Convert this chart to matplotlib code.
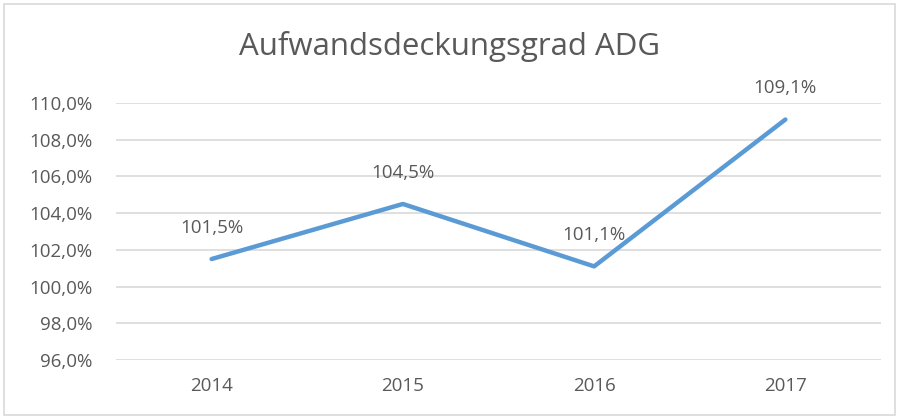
import matplotlib.pyplot as plt
from matplotlib.patches import Rectangle
from matplotlib.ticker import FuncFormatter

years = ["2014", "2015", "2016", "2017"]
adg = [101.5, 104.5, 101.1, 109.1]
labels = ["101,5%", "104,5%", "101,1%", "109,1%"]

plt.rcParams['font.family'] = ['Open Sans', 'DejaVu Sans']
grey = '#595959'

fig = plt.figure(figsize=(8.99, 4.19), dpi=100)
ax = fig.add_axes([116 / 899, 1 - 360 / 419, 765 / 899, 257 / 419])

x = range(len(years))
ax.plot(x, adg, color='#5B9BD5', lw=3.2, solid_capstyle='round', solid_joinstyle='round')
for i, (v, t) in enumerate(zip(adg, labels)):
    ax.annotate(t, (i, v), xytext=(0, 16), textcoords='offset points',
                ha='center', va='bottom', fontsize=13.5, color=grey)

ax.set_xlim(-0.5, len(years) - 0.5)
ax.set_ylim(96, 110)
ax.set_yticks(range(96, 111, 2))
ax.yaxis.set_major_formatter(FuncFormatter(lambda v, p: f"{v:.1f}%".replace('.', ',')))
ax.set_xticks(list(x))
ax.set_xticklabels(years)
ax.tick_params(length=0, labelsize=13.5, labelcolor=grey)
ax.tick_params(axis='y', pad=17)
ax.tick_params(axis='x', pad=12)
ax.grid(axis='y', color='#D9D9D9', lw=1.2)
ax.set_axisbelow(True)
for s in ax.spines.values():
    s.set_visible(False)

fig.text(0.5, 1 - 47 / 419, "Aufwandsdeckungsgrad ADG", ha='center', va='center',
         fontsize=22.5, color=grey)
fig.patches.append(Rectangle((4 / 899, 4 / 419), 891 / 899, 411 / 419, transform=fig.transFigure,
                             fill=False, edgecolor='#D9D9D9', lw=1.2))

fig.savefig('out.png', dpi=100)
